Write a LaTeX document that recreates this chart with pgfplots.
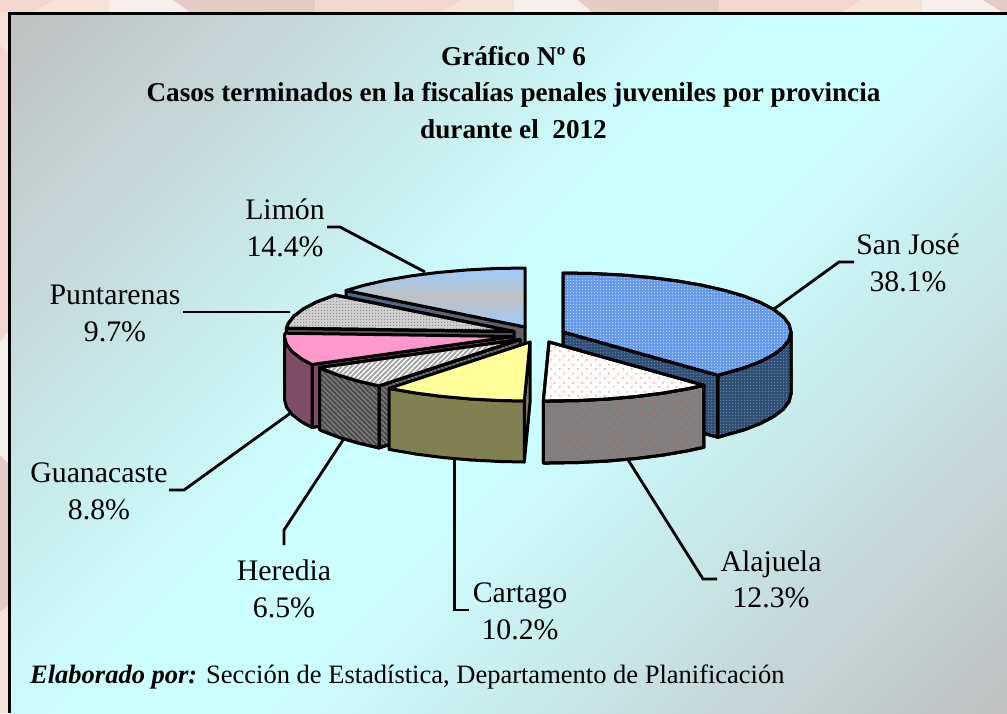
\documentclass[border=0pt]{standalone}
\usepackage{pgfplots}
\pgfplotsset{compat=1.18}
\usepackage{fontspec}
\setmainfont{Liberation Serif}
\usetikzlibrary{patterns}
\definecolor{gA}{HTML}{C0C0C0}
\definecolor{cA}{HTML}{CCFFFF}
\definecolor{wPink}{HTML}{F3D6D0}
\definecolor{wPeach}{HTML}{F5E3D8}
\definecolor{wWhite}{HTML}{F8EEEB}
\definecolor{wDark}{HTML}{E6CCC6}
\definecolor{sjTop}{HTML}{6699E8}
\definecolor{sjDot}{HTML}{B0D4FF}
\definecolor{sjWall}{HTML}{2F4F77}
\definecolor{sjWallDot}{HTML}{5E7FA0}
\definecolor{alDot}{HTML}{FF9999}
\definecolor{alWall}{HTML}{808080}
\definecolor{alWallDot}{HTML}{B06060}
\definecolor{caTop}{HTML}{FFFF99}
\definecolor{caWall}{HTML}{808050}
\definecolor{heStripe}{HTML}{A8A8A8}
\definecolor{heWall}{HTML}{808080}
\definecolor{heWallS}{HTML}{4D4D4D}
\definecolor{guTop}{HTML}{FF99CC}
\definecolor{guWall}{HTML}{804D66}
\definecolor{puTop}{HTML}{D0D0D0}
\definecolor{puDot}{HTML}{909090}
\definecolor{puWall}{HTML}{555555}
\definecolor{liBlue}{HTML}{99CCFF}
\definecolor{liWallA}{HTML}{4A6A90}
\definecolor{liWallB}{HTML}{606060}
\pgfdeclarehorizontalshading{bgshade}{100bp}{color(0bp)=(gA); color(14.64bp)=(gA); color(46bp)=(cA); color(54bp)=(cA); color(85.36bp)=(gA); color(100bp)=(gA)}
\pgfdeclarepatternformonly{finedots}{\pgfqpoint{0pt}{0pt}}{\pgfqpoint{3pt}{3pt}}{\pgfqpoint{3pt}{3pt}}{%
 \pgfpathrectangle{\pgfqpoint{0pt}{0pt}}{\pgfqpoint{1.5pt}{1.5pt}}\pgfusepath{fill}}
\pgfdeclarepatternformonly{sparsedots}{\pgfqpoint{0pt}{0pt}}{\pgfqpoint{9pt}{9pt}}{\pgfqpoint{9pt}{9pt}}{%
 \pgfpathcircle{\pgfqpoint{2.2pt}{2.2pt}}{1.1pt}\pgfpathcircle{\pgfqpoint{6.7pt}{6.7pt}}{1.1pt}\pgfusepath{fill}}
\pgfdeclarepatternformonly{fstripesA}{\pgfqpoint{-1pt}{-1pt}}{\pgfqpoint{6pt}{6pt}}{\pgfqpoint{5pt}{5pt}}{%
 \pgfsetlinewidth{1.8pt}\pgfpathmoveto{\pgfqpoint{-1pt}{-1pt}}\pgfpathlineto{\pgfqpoint{6pt}{6pt}}\pgfusepath{stroke}}
\pgfdeclarepatternformonly{fstripesB}{\pgfqpoint{-1pt}{-1pt}}{\pgfqpoint{6pt}{6pt}}{\pgfqpoint{5pt}{5pt}}{%
 \pgfsetlinewidth{1.8pt}\pgfpathmoveto{\pgfqpoint{-1pt}{6pt}}\pgfpathlineto{\pgfqpoint{6pt}{-1pt}}\pgfusepath{stroke}}
\tikzset{
 slice/.style={draw=black,line width=3pt,line join=round,fill=#1},
 lead/.style={draw=black,line width=2.8pt,line join=miter},
 wall/.style={fill=#1,draw=none},
 lab/.style={anchor=base,inner sep=0pt,font=\fontsize{29.8}{32}\selectfont},
 ttl/.style={anchor=base,inner sep=0pt,font=\fontsize{27.2}{30}\selectfont\bfseries},
}
\begin{document}
\begin{tikzpicture}
\begin{axis}[scale only axis,width=1007pt,height=713pt,xmin=0,xmax=1007,ymin=0,ymax=713,y dir=reverse,hide axis,clip=true,no marks,cycle list={{black}}]
% wallpaper strip, top
\addplot[wall=wPink] coordinates {(0,0)(55,0)(29,14)(0,14)} -- cycle;
\addplot[wall=wPeach] coordinates {(55,0)(109,0)(109,14)(29,14)} -- cycle;
\addplot[wall=wWhite] coordinates {(109,0)(173,0)(193,14)(109,14)} -- cycle;
\addplot[wall=wDark] coordinates {(173,0)(315,0)(315,14)(193,14)} -- cycle;
\addplot[wall=wPink] coordinates {(315,0)(462,0)(440,14)(315,14)} -- cycle;
\addplot[wall=wPeach] coordinates {(462,0)(514,0)(514,14)(440,14)} -- cycle;
\addplot[wall=wWhite] coordinates {(514,0)(578,0)(594,14)(514,14)} -- cycle;
\addplot[wall=wDark] coordinates {(578,0)(719,0)(719,14)(594,14)} -- cycle;
\addplot[wall=wPink] coordinates {(719,0)(861,0)(841,14)(719,14)} -- cycle;
\addplot[wall=wPeach] coordinates {(861,0)(922,0)(922,14)(841,14)} -- cycle;
\addplot[wall=wWhite] coordinates {(922,0)(983,0)(1005,14)(922,14)} -- cycle;
\addplot[wall=wDark] coordinates {(983,0)(1007,0)(1007,14)(1005,14)} -- cycle;
% wallpaper strip, left
\addplot[wall=wPeach] coordinates {(0,12)(10,12)(10,55)(0,45)} -- cycle;
\addplot[wall=wPink] coordinates {(0,45)(10,55)(10,330)(0,342)} -- cycle;
\addplot[wall=wWhite] coordinates {(0,342)(10,330)(10,465)(0,455)} -- cycle;
\addplot[wall=wDark] coordinates {(0,455)(10,465)(10,605)(0,612)} -- cycle;
\addplot[wall=wPeach] coordinates {(0,612)(10,605)(10,713)(0,713)} -- cycle;
% background
\fill[shading=bgshade,shading angle=-45] (axis cs:9.5,13) rectangle (axis cs:1007,713);
\draw[black,line width=3pt] (axis cs:9.5,713) -- (axis cs:9.5,13) -- (axis cs:1007,13);

% leader lines
\addplot[lead] coordinates {(774,309)(839,262)(854,262)};
\addplot[lead] coordinates {(425,272)(340,227)(327,227)};
\addplot[lead] coordinates {(290,312)(183,312)};
\addplot[lead] coordinates {(292,412)(184,490)(169,490)};
\addplot[lead] coordinates {(345,437)(284,530)(284,545)};
\addplot[lead] coordinates {(454.7,455)(454.7,610)(469,610)};
\addplot[lead] coordinates {(625,455)(703,579)(717,579)};

% Limon 14.4%
\addplot[draw=black,line width=3pt,line join=round,left color=liWallA,right color=liWallB] coordinates {(346,290.5)(525,327)(525,389)(346,352.5)} -- cycle;
\addplot[draw=black,line width=3pt,line join=round,top color=liBlue,bottom color=liBlue,middle color=gA] coordinates {(525,327)(346,290.5)(363.8,285.3)(386.2,280.2)(411,275.9)(437.7,272.5)(466,270)(495.2,268.5)(525,268)} -- cycle;

% Puntarenas 9.7%
\addplot[slice=puWall] coordinates {(286.4,328.2)(514,331.5)(514,393)(286.4,390)} -- cycle;
\addplot[slice=puTop,postaction={pattern=finedots,pattern color=puDot}] coordinates {(514,331.5)(286.4,328.2)(288,323.8)(293.8,316.2)(303.4,308.9)(316.5,302)(335,295)} -- cycle;

% Guanacaste 8.8%
\addplot[slice=guWall] coordinates {(312,364.5)(512.5,336.5)(512.5,399.5)(312,427.5)} -- cycle;
\addplot[slice=guWall] coordinates {(284.5,336.5)(286.5,344.2)(292.3,351.8)(301.9,359.1)(312,364.5)(312,427.5)(301.9,422.1)(292.3,414.8)(286.5,407.2)(284.5,399.5)} -- cycle;
\addplot[slice=guTop] coordinates {(512.5,336.5)(312,364.5)(301.9,359.1)(292.3,351.8)(286.5,344.2)(284.5,336.5)(284.9,333.2)} -- cycle;

% Heredia 6.5%
\addplot[slice=heWall,postaction={pattern=fstripesB,pattern color=heWallS}] coordinates {(379,385.9)(520,339.5)(520,401.5)(379,447.9)} -- cycle;
\addplot[slice=heWall,postaction={pattern=fstripesB,pattern color=heWallS}] coordinates {(319.5,367.5)(322.5,369)(339.1,375.4)(358.8,381.2)(379,385.9)(379,447.9)(358.8,443.2)(339.1,437.4)(322.5,431)(319.5,429.5)} -- cycle;
\addplot[slice=white,postaction={pattern=fstripesA,pattern color=heStripe}] coordinates {(520,339.5)(379,385.9)(358.8,381.2)(339.1,375.4)(322.5,369)(319.5,367.5)} -- cycle;

% Cartago 10.2%
\addplot[slice=caWall] coordinates {(530,342)(524.3,401)(524.3,462)(530,403)} -- cycle;
\addplot[slice=caWall] coordinates {(524.3,401)(500.2,400.5)(471,399)(442.7,396.5)(416,393.1)(389,388.4)(389,449.4)(416,454.1)(442.7,457.5)(471,460)(500.2,461.5)(524.3,462)} -- cycle;
\addplot[slice=caTop] coordinates {(530,342)(524.3,401)(500.2,400.5)(471,399)(442.7,396.5)(416,393.1)(389,388.4)} -- cycle;

% San Jose 38.1%
\addplot[slice=sjWall,postaction={pattern=finedots,pattern color=sjWallDot}] coordinates {(563,332)(717.9,375.3)(717.9,437.3)(563,394)} -- cycle;
\addplot[slice=sjWall,postaction={pattern=finedots,pattern color=sjWallDot}] coordinates {(791,332)(789,339.7)(783.2,347.3)(773.6,354.6)(760.5,361.5)(743.9,367.9)(717.9,375.3)(717.9,437.3)(743.9,429.9)(760.5,423.5)(773.6,416.6)(783.2,409.3)(789,401.7)(791,394)} -- cycle;
\addplot[slice=sjTop,postaction={pattern=finedots,pattern color=sjDot}] coordinates {(563,332)(563,273)(592.8,273.5)(622,275)(650.3,277.5)(677,280.9)(701.8,285.2)(724.2,290.3)(743.9,296.1)(760.5,302.5)(773.6,309.4)(783.2,316.7)(789,324.3)(791,332)(789,339.7)(783.2,347.3)(773.6,354.6)(760.5,361.5)(743.9,367.9)(717.9,375.3)} -- cycle;

% Alajuela 12.3%
\addplot[slice=alWall,postaction={pattern=sparsedots,pattern color=alWallDot}] coordinates {(703.9,385.3)(687.8,388.8)(663,393.1)(636.3,396.5)(608,399)(578.8,400.5)(549,401)(543.3,401)(543.3,463)(549,463)(578.8,462.5)(608,461)(636.3,458.5)(663,455.1)(687.8,450.8)(703.9,447.3)} -- cycle;
\addplot[slice=white,postaction={pattern=sparsedots,pattern color=alDot}] coordinates {(549,342)(703.9,385.3)(687.8,388.8)(663,393.1)(636.3,396.5)(608,399)(578.8,400.5)(549,401)(543.3,401)} -- cycle;

% labels
\node[lab] at (axis cs:908,254) {San José};
\node[lab] at (axis cs:908,291) {38.1\%};
\node[lab] at (axis cs:285,219) {Limón};
\node[lab] at (axis cs:285,256) {14.4\%};
\node[lab] at (axis cs:115,304) {Puntarenas};
\node[lab] at (axis cs:115,341) {9.7\%};
\node[lab] at (axis cs:99,482) {Guanacaste};
\node[lab] at (axis cs:99,519) {8.8\%};
\node[lab] at (axis cs:284,580) {Heredia};
\node[lab] at (axis cs:284,617) {6.5\%};
\node[lab] at (axis cs:520,602) {Cartago};
\node[lab] at (axis cs:520,639) {10.2\%};
\node[lab] at (axis cs:771,571) {Alajuela};
\node[lab] at (axis cs:771,607) {12.3\%};

% title
\node[ttl] at (axis cs:513.5,65) {Gráfico Nº 6};
\node[ttl] at (axis cs:513.5,101) {Casos terminados en la fiscalías penales juveniles por provincia};
\node[ttl] at (axis cs:513.5,138) {durante el \ 2012};
% source
\node[anchor=base west,inner sep=0pt,font=\fontsize{26.5}{30}\selectfont] at (axis cs:30,683) {\textbf{\textit{Elaborado por:}} Sección de Estadística, Departamento de Planificación};
\end{axis}
\end{tikzpicture}
\end{document}
